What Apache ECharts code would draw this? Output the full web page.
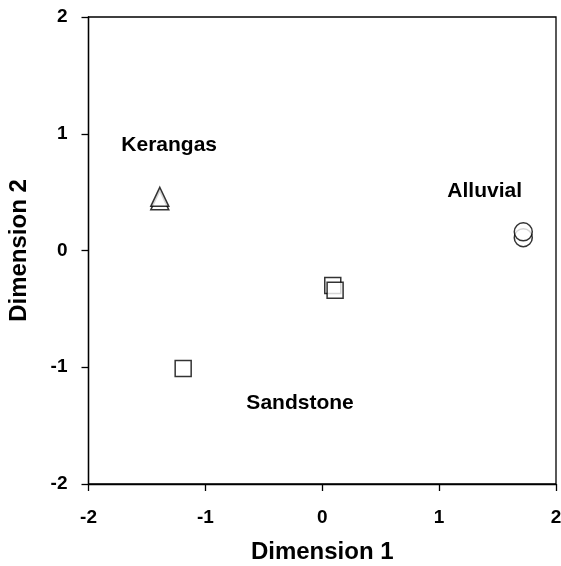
<!DOCTYPE html>
<html><head><meta charset="utf-8">
<script src="https://cdn.jsdelivr.net/npm/echarts@6/dist/echarts.min.js"></script>
<style>html,body{margin:0;padding:0;background:#fff}#c{width:561px;height:566px}</style>
</head><body><div id="c"></div>
<script>
var kerangas = [[-1.39, 0.43], [-1.39, 0.46]];
var sandstone = [[0.09, -0.30], [0.11, -0.34], [-1.19, -1.01]];
var alluvial = [[1.72, 0.11], [1.72, 0.16]];
var groupNames = ['Kerangas', 'Alluvial', 'Sandstone'];
var groupLabelPos = [[-1.31, 0.90], [1.39, 0.51], [-0.19, -1.31]];
var ticks = [-2, -1, 0, 1, 2];

var chart = echarts.init(document.getElementById('c'));
function axisCfg(margin) {
  return {
    min: -2, max: 2, interval: 1,
    axisLine: {show: true, onZero: false, lineStyle: {color: '#000', width: 1.3}},
    axisTick: {show: true, inside: false, length: 7, lineStyle: {color: '#000', width: 1.3}},
    splitLine: {show: false},
    axisLabel: {fontFamily: 'Liberation Sans, Arial', fontWeight: 'bold', fontSize: 19, color: '#000', margin: margin,
      formatter: function (v) { return ticks.indexOf(v) >= 0 ? String(v) : ''; }},
    nameLocation: 'middle',
    nameTextStyle: {fontFamily: 'Liberation Sans, Arial', fontWeight: 'bold', fontSize: 24, color: '#000'}
  };
}
var mk = {color: '#fff', borderColor: '#000', borderWidth: 1.5};
chart.setOption({
  animation: false,
  backgroundColor: '#fff',
  grid: {left: 88.5, top: 17, right: 5, bottom: 82, containLabel: false, outerBoundsMode: 'none',
    show: true, borderColor: '#000', borderWidth: 1.3, backgroundColor: 'transparent'},
  xAxis: Object.assign(axisCfg(24), {type: 'value', name: 'Dimension 1', nameGap: 56}),
  yAxis: Object.assign(axisCfg(21), {type: 'value', name: 'Dimension 2', nameGap: 57}),
  series: [
    {type: 'scatter', data: kerangas, symbol: 'triangle', symbolSize: [18, 19], itemStyle: mk},
    {type: 'scatter', data: sandstone, symbol: 'rect', symbolSize: 16, itemStyle: mk},
    {type: 'scatter', data: alluvial, symbol: 'circle', symbolSize: 18, itemStyle: mk},
    {type: 'scatter', symbol: 'circle', symbolSize: 1, itemStyle: {color: 'rgba(0,0,0,0)'},
      data: groupNames.map(function (n, i) { return {name: n, value: groupLabelPos[i]}; }),
      label: {show: true, position: 'inside', formatter: '{b}', fontFamily: 'Liberation Sans, Arial', fontWeight: 'bold',
        fontSize: 21, color: '#000', textBorderWidth: 0, textBorderColor: 'transparent', opacity: 1}}
  ]
});
</script></body></html>
